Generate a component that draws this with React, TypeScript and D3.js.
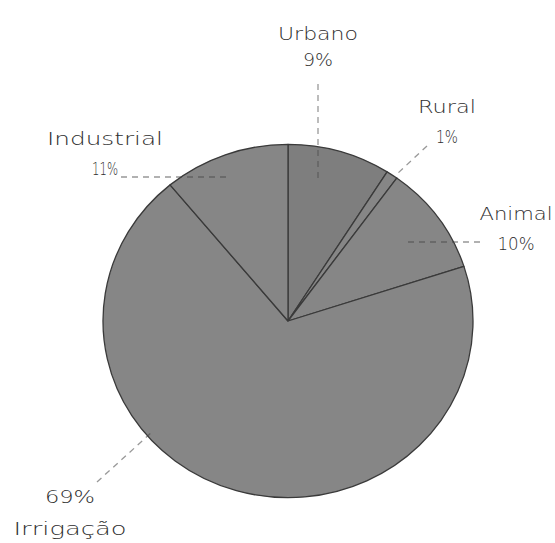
import React from "react";
import * as d3 from "d3";

const categories = ["Urbano", "Rural", "Animal", "Irrigação", "Industrial"];
const values = [9, 1, 10, 69, 11];
const percentLabels = ["9%", "1%", "10%", "69%", "11%"];

// layout (not data): label placement and leader lines per category
const labelLayout: Record<string, { x: number; nameY: number; pctY: number; nameW: number; pctW: number; leader: [number, number, number, number] }> = {
  Urbano: { x: 318, nameY: 40, pctY: 66, nameW: 80, pctW: 30, leader: [318, 84, 318, 181] },
  Rural: { x: 447, nameY: 113, pctY: 143, nameW: 58, pctW: 22, leader: [427, 146, 397, 174] },
  Animal: { x: 516, nameY: 220, pctY: 250, nameW: 73, pctW: 37, leader: [480, 242, 404, 242] },
  Industrial: { x: 105, nameY: 145, pctY: 175, nameW: 116, pctW: 26, leader: [121, 177, 231, 177] },
  "Irrigação": { x: 70, nameY: 535, pctY: 503, nameW: 113, pctW: 50, leader: [97, 482, 152, 432] },
};

const W = 555;
const H = 543;
const cx = 288;
const cy = 321;
const R = 185;
const squash = 0.955;

export default function App() {
  const pie = d3
    .pie<number>()
    .sort(null)
    .value((d) => d)
    .startAngle(0)
    .endAngle(2 * Math.PI);
  const arcs = pie(values);
  const arc = d3.arc<d3.PieArcDatum<number>>().innerRadius(0).outerRadius(R);
  const fills = ["#7e7e7e", "#868686", "#868686", "#868686", "#868686"];

  return (
    <svg
      width={W}
      height={H}
      style={{ position: "absolute", left: 0, top: 0, background: "#fff" }}
      fontFamily="'DejaVu Sans', sans-serif"
    >
      <rect width={W} height={H} fill="#fff" />
      <g transform={`translate(${cx},${cy}) scale(1,${squash})`}>
        {arcs.map((a, i) => (
          <path
            key={categories[i]}
            d={arc(a) || ""}
            fill={fills[i]}
            stroke="#3a3a3a"
            strokeWidth={1.3}
            vectorEffect="non-scaling-stroke"
            strokeLinejoin="round"
          />
        ))}
      </g>
      {categories.map((c, i) => {
        const l = labelLayout[c];
        return (
          <g key={c}>
            <line
              x1={l.leader[0]}
              y1={l.leader[1]}
              x2={l.leader[2]}
              y2={l.leader[3]}
              stroke="#444"
              strokeOpacity={0.55}
              strokeWidth={1.3}
              strokeDasharray="6 5"
            />
            <text
              x={l.x}
              y={l.nameY}
              textAnchor="middle"
              fontSize={17}
              fontWeight={200}
              fill="#2e2e2e"
              textLength={l.nameW}
              lengthAdjust="spacingAndGlyphs"
            >
              {c}
            </text>
            <text
              x={l.x}
              y={l.pctY}
              textAnchor="middle"
              fontSize={17}
              fontWeight={200}
              fill="#2e2e2e"
              textLength={l.pctW}
              lengthAdjust="spacingAndGlyphs"
            >
              {percentLabels[i]}
            </text>
          </g>
        );
      })}
    </svg>
  );
}
